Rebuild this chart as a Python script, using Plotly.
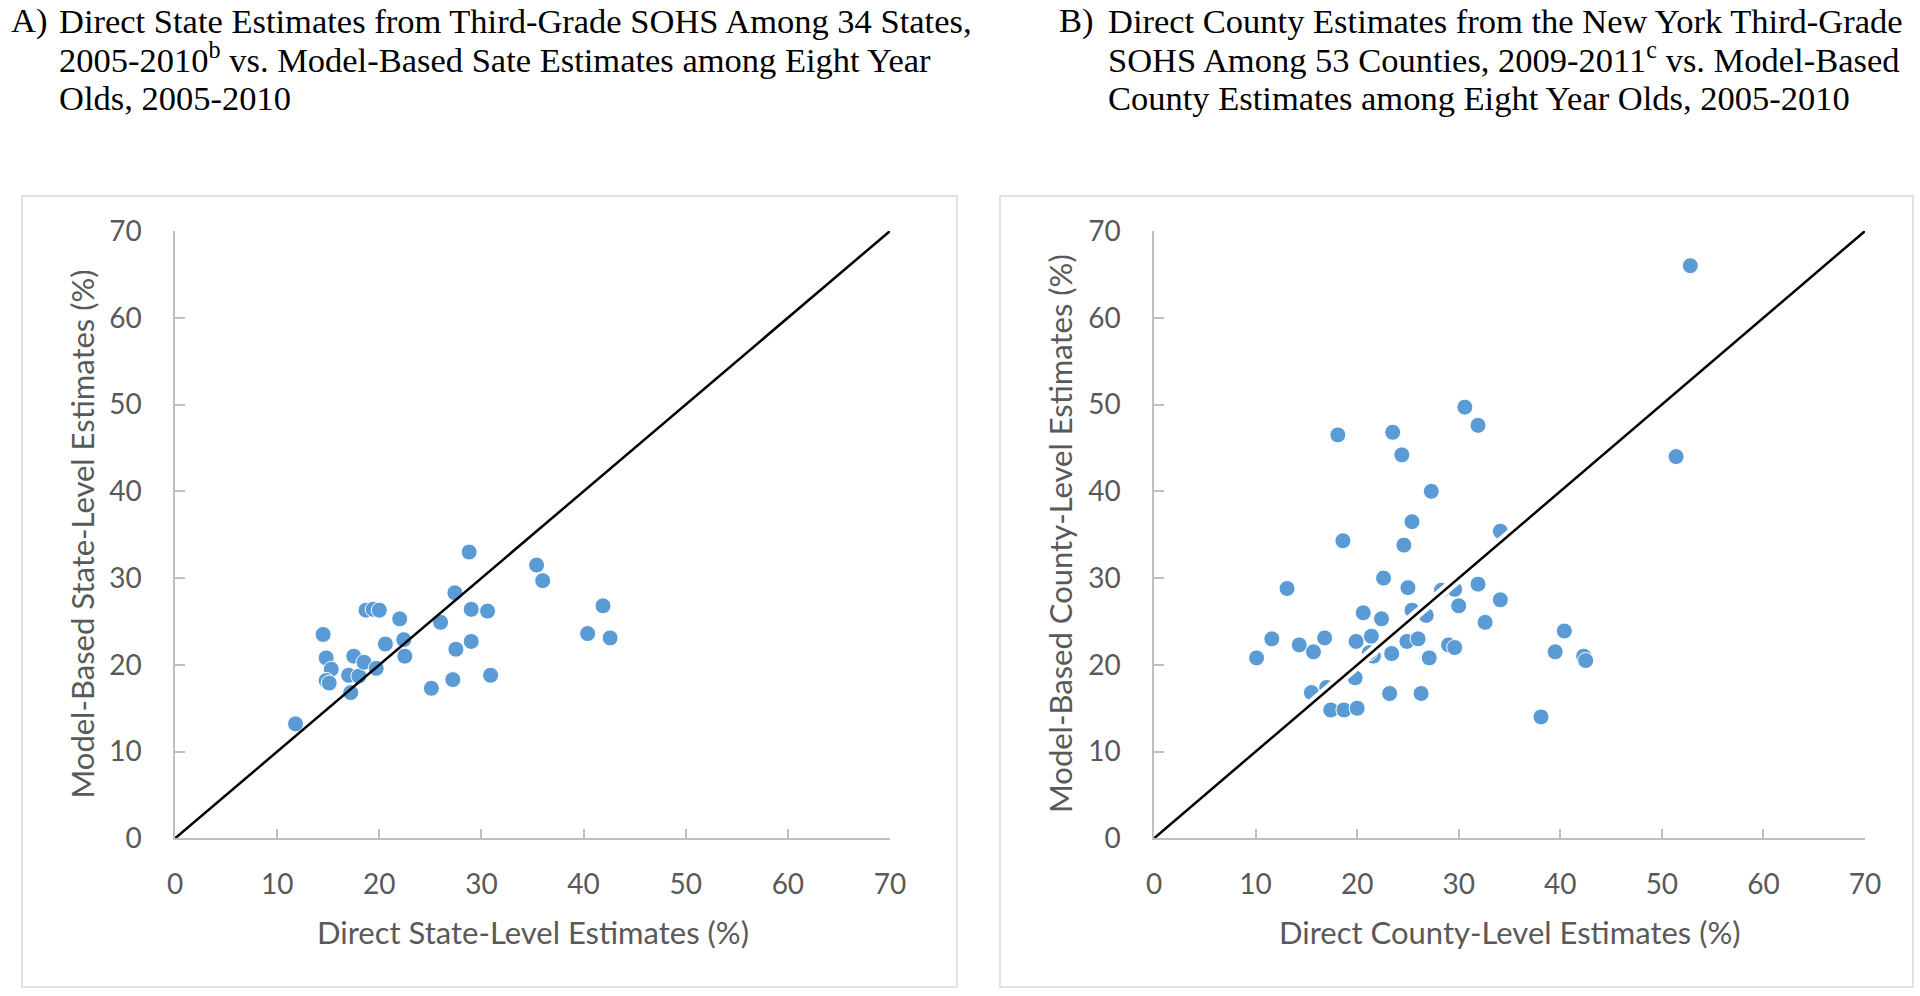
import plotly.graph_objects as go

# ---------------- data ----------------
ticks = [0, 10, 20, 30, 40, 50, 60, 70]
diag = [0, 70]

state_direct = [11.8, 14.5, 14.8, 15.3, 14.8, 15.1, 17.2, 17.0, 18.0, 17.5, 18.5, 19.7,
                18.7, 19.4, 20.0, 20.6, 22.0, 22.4, 22.5, 25.1, 26.0, 27.2, 27.5, 27.4,
                28.8, 29.0, 29.0, 30.6, 30.9, 35.4, 36.0, 41.9, 40.4, 42.6]
state_model = [13.2, 23.5, 20.8, 19.5, 18.2, 17.9, 16.8, 18.8, 18.7, 21.0, 20.3, 19.6,
               26.3, 26.4, 26.3, 22.4, 25.3, 22.9, 21.0, 17.3, 24.9, 18.3, 21.8, 28.3,
               33.0, 26.4, 22.7, 26.2, 18.8, 31.5, 29.7, 26.8, 23.6, 23.1]

county_direct = [18.1, 23.5, 24.4, 30.6, 31.9, 27.3, 25.4, 34.1, 10.1, 11.6, 13.1, 14.3,
                 15.7, 15.5, 16.8, 17.4, 18.7, 20.0, 18.6, 20.6, 19.9, 21.4, 21.6, 19.8,
                 22.6, 22.4, 23.4, 23.2, 24.6, 25.0, 25.4, 24.9, 26.0, 26.8, 26.3, 27.1,
                 29.6, 30.0, 29.0, 29.6, 31.9, 32.6, 34.1, 40.4, 39.5, 42.3, 42.5, 38.1,
                 52.8, 51.4, 21.2, 28.3, 17.0]
county_model = [46.5, 46.8, 44.2, 49.7, 47.6, 40.0, 36.5, 35.4, 20.8, 23.0, 28.8, 22.3,
                21.5, 16.8, 23.1, 14.8, 14.8, 15.0, 34.3, 26.0, 22.7, 23.3, 21.0, 18.5,
                30.0, 25.3, 21.3, 16.7, 33.8, 28.9, 26.3, 22.7, 23.0, 25.7, 16.7, 20.8,
                28.7, 26.8, 22.3, 22.0, 29.3, 24.9, 27.5, 23.9, 21.5, 21.0, 20.5, 14.0,
                66.0, 44.0, 21.4, 28.6, 17.4]

title_a = ["Direct State Estimates from Third-Grade SOHS Among 34 States,",
           "2005-2010<sup>b</sup> vs. Model-Based Sate Estimates among Eight Year",
           "Olds, 2005-2010"]
title_b = ["Direct County Estimates from the New York Third-Grade",
           "SOHS Among 53 Counties, 2009-2011<sup>c</sup> vs. Model-Based",
           "County Estimates among Eight Year Olds, 2005-2010"]

# ---------------- layout helpers ----------------
W, H = 1920, 996
def px(x):
    return x / W
def py(y):
    return 1 - y / H

BLUE = "#5b9bd5"
GREY_TXT = "#595959"
AX = "#bfbfbf"
SANS = "Lato, 'Open Sans', sans-serif"
SERIF = "'Liberation Serif', 'Times New Roman', serif"

fig = go.Figure()

marker = dict(color=BLUE, size=16, line=dict(color="white", width=1))

fig.add_trace(go.Scatter(x=state_direct, y=state_model, mode="markers", marker=marker,
                         xaxis="x", yaxis="y", cliponaxis=False, showlegend=False))
fig.add_trace(go.Scatter(x=diag, y=diag, mode="lines", line=dict(color="black", width=2.5),
                         xaxis="x", yaxis="y", showlegend=False))

fig.add_trace(go.Scatter(x=county_direct, y=county_model, mode="markers", marker=marker,
                         xaxis="x2", yaxis="y2", cliponaxis=False, showlegend=False))
fig.add_trace(go.Scatter(x=diag, y=diag, mode="lines", line=dict(color="white", width=10),
                         xaxis="x2", yaxis="y2", showlegend=False))
fig.add_trace(go.Scatter(x=diag, y=diag, mode="lines", line=dict(color="black", width=2.5),
                         xaxis="x2", yaxis="y2", showlegend=False))

ydom = [py(838.4), py(231)]
common = dict(range=[0, 70], tickvals=ticks, ticks="inside", ticklen=10, tickcolor=AX,
              tickwidth=1.5, showline=True, linecolor=AX, linewidth=1.5,
              showgrid=False, zeroline=False, automargin=False,
              tickfont=dict(family=SANS, size=28, color=GREY_TXT))

fig.update_layout(
    width=W, height=H, margin=dict(l=0, r=0, t=0, b=0, autoexpand=False),
    paper_bgcolor="white", plot_bgcolor="white",
    xaxis=dict(domain=[px(175), px(890)], anchor="y", ticklabelstandoff=20, **common),
    yaxis=dict(domain=ydom, anchor="x", ticklabelstandoff=26, **common),
    xaxis2=dict(domain=[px(1154), px(1865)], anchor="y2", ticklabelstandoff=20, **common),
    yaxis2=dict(domain=ydom, anchor="x2", ticklabelstandoff=26, **common),
)

shapes = []
for (l, r) in [(22, 957), (1000, 1913)]:
    shapes.append(dict(type="rect", xref="paper", yref="paper", x0=px(l), x1=px(r),
                       y0=py(987), y1=py(196), line=dict(color="#d9d9d9", width=1.5),
                       fillcolor="rgba(0,0,0,0)", layer="below"))
fig.update_layout(shapes=shapes)

ann = []
tfont = dict(family=SERIF, size=34.5, color="black")
baselines = [34, 73, 111]
for label, lx, tx, lines in [("A)", 9, 57, title_a), ("B)", 1057, 1106, title_b)]:
    ann.append(dict(text=label, x=px(lx), y=py(baselines[0] + 8), xref="paper", yref="paper",
                    xanchor="left", yanchor="bottom", showarrow=False, font=tfont))
    for i, t in enumerate(lines):
        ann.append(dict(text=t, x=px(tx), y=py(baselines[i] + 8), xref="paper", yref="paper",
                        xanchor="left", yanchor="bottom", showarrow=False, font=tfont))

afont = dict(family=SANS, size=31, color=GREY_TXT)
ann.append(dict(text="Model-Based State-Level Estimates (%)", textangle=-90, x=px(81), y=py(534.5),
                xref="paper", yref="paper", xanchor="center", yanchor="middle",
                showarrow=False, font=afont))
ann.append(dict(text="Direct State-Level Estimates (%)", x=px(532.5), y=py(932),
                xref="paper", yref="paper", xanchor="center", yanchor="middle",
                showarrow=False, font=afont))
ann.append(dict(text="Model-Based County-Level Estimates (%)", textangle=-90, x=px(1060), y=py(534),
                xref="paper", yref="paper", xanchor="center", yanchor="middle",
                showarrow=False, font=afont))
ann.append(dict(text="Direct County-Level Estimates (%)", x=px(1510), y=py(932),
                xref="paper", yref="paper", xanchor="center", yanchor="middle",
                showarrow=False, font=afont))
fig.update_layout(annotations=ann)

fig.write_html("out.html", config={"displayModeBar": False},
               post_script="document.body.style.margin='0';document.body.style.overflow='hidden';")
